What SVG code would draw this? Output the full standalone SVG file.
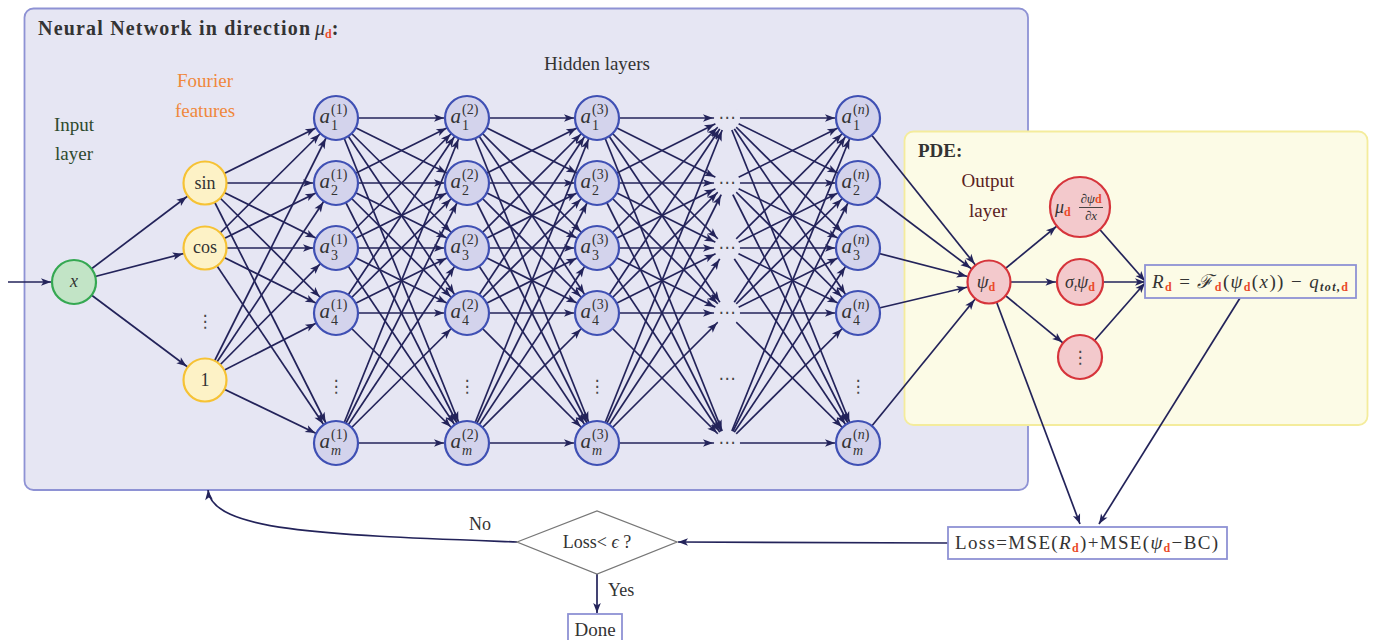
<svg xmlns="http://www.w3.org/2000/svg" width="1374" height="640" viewBox="0 0 1374 640">
  <style>
    text { font-family: "Liberation Serif", "DejaVu Serif", serif; fill: #333; }
    .panel-nn { fill: #e6e6f3; stroke: #8e92d4; stroke-width: 1.8; }
    .panel-pde { fill: #fcfbe6; stroke: #f4ec9c; stroke-width: 1.8; }
    .cn line, .cn path { stroke: #23235a; stroke-width: 1.7; fill: none; }
    .toC line { marker-end: url(#ac); }
    .toD line { marker-end: url(#ad); }
    .toH { marker-end: url(#ah); }
    .inN { fill: #c2e4c6; stroke: #35a852; stroke-width: 2.2; }
    .fN { fill: #fdf2c6; stroke: #f6c234; stroke-width: 2.2; }
    .hN { fill: #d3d3ec; stroke: #3f50b4; stroke-width: 2.2; }
    .pN { fill: #f3c9cc; stroke: #d6343b; stroke-width: 2.2; }
    .bx { fill: #ffffff; stroke: #8e92d4; stroke-width: 1.8; }
    .dbg { fill: #e6e6f3; }
    .lbl { font-size: 19px; text-anchor: middle; }
    .nl { font-size: 18px; text-anchor: middle; }
    .v { font-size: 21px; font-style: italic; text-anchor: end; }
    .sx { font-size: 14px; }
    .it { font-style: italic; }
    .rd { fill: #ea4a2a; font-weight: bold; font-size: 12px; font-style: normal; }
    .dots { font-family: "DejaVu Sans", sans-serif; font-size: 17px; text-anchor: middle; fill: #444; }
  </style>
  <defs>
    <!-- arrowheads pulled back from the line end so the tip lands on the target's rim -->
    <marker id="ah" markerUnits="userSpaceOnUse" orient="auto" overflow="visible" markerWidth="1" markerHeight="1">
      <path d="M0,0 L-10,-3.8 L-7.5,0 L-10,3.8 Z" fill="#23235a"/>
    </marker>
    <marker id="ac" markerUnits="userSpaceOnUse" orient="auto" overflow="visible" markerWidth="1" markerHeight="1">
      <path d="M-23,0 L-33,-3.8 L-30.5,0 L-33,3.8 Z" fill="#23235a"/>
    </marker>
    <marker id="ad" markerUnits="userSpaceOnUse" orient="auto" overflow="visible" markerWidth="1" markerHeight="1">
      <path d="M-14,0 L-24,-3.8 L-21.5,0 L-24,3.8 Z" fill="#23235a"/>
    </marker>
    <marker id="am" markerUnits="userSpaceOnUse" orient="auto" overflow="visible" markerWidth="1" markerHeight="1">
      <path d="M-31,0 L-41,-3.8 L-38.5,0 L-41,3.8 Z" fill="#23235a"/>
    </marker>
    <marker id="as" markerUnits="userSpaceOnUse" orient="auto" overflow="visible" markerWidth="1" markerHeight="1">
      <path d="M-24.5,0 L-34.5,-3.8 L-32,0 L-34.5,3.8 Z" fill="#23235a"/>
    </marker>
  </defs>

  <!-- panels -->
  <g id="panel-network">
    <rect class="panel-nn" x="24.5" y="8.5" width="1003.5" height="481.5" rx="9"/>
    <text x="38" y="35" font-size="20" font-weight="bold" textLength="272" lengthAdjust="spacing">Neural Network in direction</text>
    <text x="315" y="35" font-size="20"><tspan class="it">μ</tspan><tspan class="rd" dy="3">d</tspan><tspan dy="-3" font-weight="bold">:</tspan></text>
    <text class="lbl" x="205" y="87" style="fill:#f0883c">Fourier</text>
    <text class="lbl" x="205" y="117" style="fill:#f0883c">features</text>
    <text class="lbl" x="74" y="131" style="fill:#2e4a2e">Input</text>
    <text class="lbl" x="74" y="160" style="fill:#2e4a2e">layer</text>
    <text class="lbl" x="597" y="70">Hidden layers</text>
  </g>
  <g id="panel-pde">
    <rect class="panel-pde" x="904.5" y="131.5" width="463" height="293.5" rx="9"/>
    <text x="918" y="157" font-size="19" font-weight="bold">PDE:</text>
    <text class="lbl" x="988" y="187" style="fill:#5a2222">Output</text>
    <text class="lbl" x="988" y="217" style="fill:#5a2222">layer</text>
  </g>

  <!-- connectors -->
  <g id="connectors" class="cn">
    <g class="toC">
      <!-- input -->
      <line x1="8" y1="282" x2="74" y2="282"/>
      <line x1="74" y1="282" x2="205" y2="183"/>
      <line x1="74" y1="282" x2="205" y2="248"/>
      <line x1="74" y1="282" x2="205" y2="380"/>
      <!-- Fourier features to layer 1 -->
      <line x1="205" y1="183" x2="336" y2="118"/><line x1="205" y1="183" x2="336" y2="183"/><line x1="205" y1="183" x2="336" y2="248"/><line x1="205" y1="183" x2="336" y2="313"/><line x1="205" y1="183" x2="336" y2="443"/>
      <line x1="205" y1="248" x2="336" y2="118"/><line x1="205" y1="248" x2="336" y2="183"/><line x1="205" y1="248" x2="336" y2="248"/><line x1="205" y1="248" x2="336" y2="313"/><line x1="205" y1="248" x2="336" y2="443"/>
      <line x1="205" y1="380" x2="336" y2="118"/><line x1="205" y1="380" x2="336" y2="183"/><line x1="205" y1="380" x2="336" y2="248"/><line x1="205" y1="380" x2="336" y2="313"/><line x1="205" y1="380" x2="336" y2="443"/>
      <!-- layer 1 to layer 2 -->
      <line x1="336" y1="118" x2="467" y2="118"/><line x1="336" y1="118" x2="467" y2="183"/><line x1="336" y1="118" x2="467" y2="248"/><line x1="336" y1="118" x2="467" y2="313"/><line x1="336" y1="118" x2="467" y2="443"/>
      <line x1="336" y1="183" x2="467" y2="118"/><line x1="336" y1="183" x2="467" y2="183"/><line x1="336" y1="183" x2="467" y2="248"/><line x1="336" y1="183" x2="467" y2="313"/><line x1="336" y1="183" x2="467" y2="443"/>
      <line x1="336" y1="248" x2="467" y2="118"/><line x1="336" y1="248" x2="467" y2="183"/><line x1="336" y1="248" x2="467" y2="248"/><line x1="336" y1="248" x2="467" y2="313"/><line x1="336" y1="248" x2="467" y2="443"/>
      <line x1="336" y1="313" x2="467" y2="118"/><line x1="336" y1="313" x2="467" y2="183"/><line x1="336" y1="313" x2="467" y2="248"/><line x1="336" y1="313" x2="467" y2="313"/><line x1="336" y1="313" x2="467" y2="443"/>
      <line x1="336" y1="443" x2="467" y2="118"/><line x1="336" y1="443" x2="467" y2="183"/><line x1="336" y1="443" x2="467" y2="248"/><line x1="336" y1="443" x2="467" y2="313"/><line x1="336" y1="443" x2="467" y2="443"/>
      <!-- layer 2 to layer 3 -->
      <line x1="467" y1="118" x2="597" y2="118"/><line x1="467" y1="118" x2="597" y2="183"/><line x1="467" y1="118" x2="597" y2="248"/><line x1="467" y1="118" x2="597" y2="313"/><line x1="467" y1="118" x2="597" y2="443"/>
      <line x1="467" y1="183" x2="597" y2="118"/><line x1="467" y1="183" x2="597" y2="183"/><line x1="467" y1="183" x2="597" y2="248"/><line x1="467" y1="183" x2="597" y2="313"/><line x1="467" y1="183" x2="597" y2="443"/>
      <line x1="467" y1="248" x2="597" y2="118"/><line x1="467" y1="248" x2="597" y2="183"/><line x1="467" y1="248" x2="597" y2="248"/><line x1="467" y1="248" x2="597" y2="313"/><line x1="467" y1="248" x2="597" y2="443"/>
      <line x1="467" y1="313" x2="597" y2="118"/><line x1="467" y1="313" x2="597" y2="183"/><line x1="467" y1="313" x2="597" y2="248"/><line x1="467" y1="313" x2="597" y2="313"/><line x1="467" y1="313" x2="597" y2="443"/>
      <line x1="467" y1="443" x2="597" y2="118"/><line x1="467" y1="443" x2="597" y2="183"/><line x1="467" y1="443" x2="597" y2="248"/><line x1="467" y1="443" x2="597" y2="313"/><line x1="467" y1="443" x2="597" y2="443"/>
      <!-- elided layers to layer n -->
      <line x1="727" y1="118" x2="858" y2="118"/><line x1="727" y1="118" x2="858" y2="183"/><line x1="727" y1="118" x2="858" y2="248"/><line x1="727" y1="118" x2="858" y2="313"/><line x1="727" y1="118" x2="858" y2="443"/>
      <line x1="727" y1="183" x2="858" y2="118"/><line x1="727" y1="183" x2="858" y2="183"/><line x1="727" y1="183" x2="858" y2="248"/><line x1="727" y1="183" x2="858" y2="313"/><line x1="727" y1="183" x2="858" y2="443"/>
      <line x1="727" y1="248" x2="858" y2="118"/><line x1="727" y1="248" x2="858" y2="183"/><line x1="727" y1="248" x2="858" y2="248"/><line x1="727" y1="248" x2="858" y2="313"/><line x1="727" y1="248" x2="858" y2="443"/>
      <line x1="727" y1="313" x2="858" y2="118"/><line x1="727" y1="313" x2="858" y2="183"/><line x1="727" y1="313" x2="858" y2="248"/><line x1="727" y1="313" x2="858" y2="313"/><line x1="727" y1="313" x2="858" y2="443"/>
      <line x1="727" y1="443" x2="858" y2="118"/><line x1="727" y1="443" x2="858" y2="183"/><line x1="727" y1="443" x2="858" y2="248"/><line x1="727" y1="443" x2="858" y2="313"/><line x1="727" y1="443" x2="858" y2="443"/>
      <!-- layer n to output -->
      <line x1="858" y1="118" x2="989" y2="282"/><line x1="858" y1="183" x2="989" y2="282"/><line x1="858" y1="248" x2="989" y2="282"/><line x1="858" y1="313" x2="989" y2="282"/><line x1="858" y1="443" x2="989" y2="282"/>
      <line x1="989" y1="282" x2="1080" y2="357"/>
    </g>
    <g class="toD">
      <!-- layer 3 into the elided layers -->
      <line x1="597" y1="118" x2="727" y2="118"/><line x1="597" y1="118" x2="727" y2="183"/><line x1="597" y1="118" x2="727" y2="248"/><line x1="597" y1="118" x2="727" y2="313"/><line x1="597" y1="118" x2="727" y2="443"/>
      <line x1="597" y1="183" x2="727" y2="118"/><line x1="597" y1="183" x2="727" y2="183"/><line x1="597" y1="183" x2="727" y2="248"/><line x1="597" y1="183" x2="727" y2="313"/><line x1="597" y1="183" x2="727" y2="443"/>
      <line x1="597" y1="248" x2="727" y2="118"/><line x1="597" y1="248" x2="727" y2="183"/><line x1="597" y1="248" x2="727" y2="248"/><line x1="597" y1="248" x2="727" y2="313"/><line x1="597" y1="248" x2="727" y2="443"/>
      <line x1="597" y1="313" x2="727" y2="118"/><line x1="597" y1="313" x2="727" y2="183"/><line x1="597" y1="313" x2="727" y2="248"/><line x1="597" y1="313" x2="727" y2="313"/><line x1="597" y1="313" x2="727" y2="443"/>
      <line x1="597" y1="443" x2="727" y2="118"/><line x1="597" y1="443" x2="727" y2="183"/><line x1="597" y1="443" x2="727" y2="248"/><line x1="597" y1="443" x2="727" y2="313"/><line x1="597" y1="443" x2="727" y2="443"/>
    </g>
    <!-- PDE terms -->
    <line x1="989" y1="282" x2="1080" y2="207" marker-end="url(#am)"/>
    <line x1="989" y1="282" x2="1080" y2="282" marker-end="url(#as)"/>
    <line class="toH" x1="1080" y1="207" x2="1145" y2="281"/>
    <line class="toH" x1="1080" y1="282" x2="1145" y2="282"/>
    <line class="toH" x1="1080" y1="357" x2="1145" y2="283"/>
    <!-- loss assembly and training loop -->
    <line class="toH" x1="989" y1="282" x2="1080" y2="524"/>
    <line class="toH" x1="1240" y1="298" x2="1099" y2="524"/>
    <line class="toH" x1="948" y1="543" x2="678" y2="542"/>
    <line class="toH" x1="597" y1="574" x2="597" y2="613"/>
    <path class="toH" d="M517,542 C330,535 212,532 208,490"/>
  </g>

  <!-- backdrops behind the elided-layer dots -->
  <g id="elided-layer">
    <circle class="dbg" cx="727" cy="118" r="13"/>
    <circle class="dbg" cx="727" cy="183" r="13"/>
    <circle class="dbg" cx="727" cy="248" r="13"/>
    <circle class="dbg" cx="727" cy="313" r="13"/>
    <circle class="dbg" cx="727" cy="443" r="13"/>
    <text class="dots" x="727" y="123">⋯</text>
    <text class="dots" x="727" y="188">⋯</text>
    <text class="dots" x="727" y="253">⋯</text>
    <text class="dots" x="727" y="318">⋯</text>
    <text class="dots" x="727" y="384">⋯</text>
    <text class="dots" x="727" y="448">⋯</text>
  </g>

  <!-- input node -->
  <g id="node-x"><circle class="inN" cx="74" cy="282" r="22"/><text class="nl it" x="74" y="287">x</text></g>

  <!-- Fourier feature nodes -->
  <g id="node-sin"><circle class="fN" cx="205" cy="183" r="21.5"/><text class="nl" x="205" y="189">sin</text></g>
  <g id="node-cos"><circle class="fN" cx="205" cy="248" r="21.5"/><text class="nl" x="205" y="253">cos</text></g>
  <g id="node-fdots"><text class="dots" x="205" y="327">⋮</text></g>
  <g id="node-one"><circle class="fN" cx="205" cy="380" r="21.5"/><text class="nl" x="205" y="386">1</text></g>

  <!-- hidden layer 1 -->
  <g id="a1-1"><circle class="hN" cx="336" cy="118" r="22"/><text class="v" x="330" y="123">a</text><text class="sx" x="331" y="114">(1)</text><text class="sx" x="331" y="130">1</text></g>
  <g id="a2-1"><circle class="hN" cx="336" cy="183" r="22"/><text class="v" x="330" y="188">a</text><text class="sx" x="331" y="179">(1)</text><text class="sx" x="331" y="195">2</text></g>
  <g id="a3-1"><circle class="hN" cx="336" cy="248" r="22"/><text class="v" x="330" y="253">a</text><text class="sx" x="331" y="244">(1)</text><text class="sx" x="331" y="260">3</text></g>
  <g id="a4-1"><circle class="hN" cx="336" cy="313" r="22"/><text class="v" x="330" y="318">a</text><text class="sx" x="331" y="309">(1)</text><text class="sx" x="331" y="325">4</text></g>
  <g id="dots-1"><text class="dots" x="336" y="392">⋮</text></g>
  <g id="am-1"><circle class="hN" cx="336" cy="443" r="22"/><text class="v" x="330" y="448">a</text><text class="sx" x="331" y="439">(1)</text><text class="sx it" x="331" y="455">m</text></g>

  <!-- hidden layer 2 -->
  <g id="a1-2"><circle class="hN" cx="467" cy="118" r="22"/><text class="v" x="461" y="123">a</text><text class="sx" x="462" y="114">(2)</text><text class="sx" x="462" y="130">1</text></g>
  <g id="a2-2"><circle class="hN" cx="467" cy="183" r="22"/><text class="v" x="461" y="188">a</text><text class="sx" x="462" y="179">(2)</text><text class="sx" x="462" y="195">2</text></g>
  <g id="a3-2"><circle class="hN" cx="467" cy="248" r="22"/><text class="v" x="461" y="253">a</text><text class="sx" x="462" y="244">(2)</text><text class="sx" x="462" y="260">3</text></g>
  <g id="a4-2"><circle class="hN" cx="467" cy="313" r="22"/><text class="v" x="461" y="318">a</text><text class="sx" x="462" y="309">(2)</text><text class="sx" x="462" y="325">4</text></g>
  <g id="dots-2"><text class="dots" x="467" y="392">⋮</text></g>
  <g id="am-2"><circle class="hN" cx="467" cy="443" r="22"/><text class="v" x="461" y="448">a</text><text class="sx" x="462" y="439">(2)</text><text class="sx it" x="462" y="455">m</text></g>

  <!-- hidden layer 3 -->
  <g id="a1-3"><circle class="hN" cx="597" cy="118" r="22"/><text class="v" x="591" y="123">a</text><text class="sx" x="592" y="114">(3)</text><text class="sx" x="592" y="130">1</text></g>
  <g id="a2-3"><circle class="hN" cx="597" cy="183" r="22"/><text class="v" x="591" y="188">a</text><text class="sx" x="592" y="179">(3)</text><text class="sx" x="592" y="195">2</text></g>
  <g id="a3-3"><circle class="hN" cx="597" cy="248" r="22"/><text class="v" x="591" y="253">a</text><text class="sx" x="592" y="244">(3)</text><text class="sx" x="592" y="260">3</text></g>
  <g id="a4-3"><circle class="hN" cx="597" cy="313" r="22"/><text class="v" x="591" y="318">a</text><text class="sx" x="592" y="309">(3)</text><text class="sx" x="592" y="325">4</text></g>
  <g id="dots-3"><text class="dots" x="597" y="392">⋮</text></g>
  <g id="am-3"><circle class="hN" cx="597" cy="443" r="22"/><text class="v" x="591" y="448">a</text><text class="sx" x="592" y="439">(3)</text><text class="sx it" x="592" y="455">m</text></g>

  <!-- hidden layer n -->
  <g id="a1-n"><circle class="hN" cx="858" cy="118" r="22"/><text class="v" x="852" y="123">a</text><text class="sx" x="853" y="114">(<tspan class="it">n</tspan>)</text><text class="sx" x="853" y="130">1</text></g>
  <g id="a2-n"><circle class="hN" cx="858" cy="183" r="22"/><text class="v" x="852" y="188">a</text><text class="sx" x="853" y="179">(<tspan class="it">n</tspan>)</text><text class="sx" x="853" y="195">2</text></g>
  <g id="a3-n"><circle class="hN" cx="858" cy="248" r="22"/><text class="v" x="852" y="253">a</text><text class="sx" x="853" y="244">(<tspan class="it">n</tspan>)</text><text class="sx" x="853" y="260">3</text></g>
  <g id="a4-n"><circle class="hN" cx="858" cy="313" r="22"/><text class="v" x="852" y="318">a</text><text class="sx" x="853" y="309">(<tspan class="it">n</tspan>)</text><text class="sx" x="853" y="325">4</text></g>
  <g id="dots-n"><text class="dots" x="858" y="392">⋮</text></g>
  <g id="am-n"><circle class="hN" cx="858" cy="443" r="22"/><text class="v" x="852" y="448">a</text><text class="sx" x="853" y="439">(<tspan class="it">n</tspan>)</text><text class="sx it" x="853" y="455">m</text></g>

  <!-- output and PDE terms -->
  <g id="node-psi"><circle class="pN" cx="989" cy="282" r="21.5"/><text x="986" y="288" font-size="19" text-anchor="middle"><tspan class="it">ψ</tspan><tspan class="rd" dy="3">d</tspan></text></g>
  <g id="node-advection">
    <circle class="pN" cx="1080" cy="207" r="30"/>
    <text x="1055" y="213" font-size="18"><tspan class="it">μ</tspan><tspan class="rd" dy="3">d</tspan></text>
    <text x="1091" y="203" font-size="13" text-anchor="middle">∂<tspan class="it">ψ</tspan><tspan class="rd" font-size="9">d</tspan></text>
    <line x1="1079" y1="207.5" x2="1103" y2="207.5" stroke="#333" stroke-width="0.9"/>
    <text x="1091" y="220" font-size="13" text-anchor="middle">∂<tspan class="it">x</tspan></text>
  </g>
  <g id="node-absorption"><circle class="pN" cx="1080" cy="282" r="23"/><text x="1080" y="288" font-size="18" text-anchor="middle"><tspan class="it">σ</tspan><tspan class="it" font-size="11" dy="3">t</tspan><tspan class="it" dy="-3">ψ</tspan><tspan class="rd" dy="3">d</tspan></text></g>
  <g id="node-pdots"><circle class="pN" cx="1080" cy="357" r="22"/><text class="dots" x="1080" y="363" font-size="14">⋮</text></g>

  <g id="residual">
    <rect class="bx" x="1145" y="265" width="211" height="33" style="fill:#fcfbe6"/>
    <text x="1152" y="288" font-size="19" textLength="196" lengthAdjust="spacing"><tspan class="it">R</tspan><tspan class="rd" dy="3">d</tspan><tspan dy="-3"> = </tspan><tspan class="it">ℱ</tspan><tspan class="rd" dy="3">d</tspan><tspan dy="-3">(</tspan><tspan class="it">ψ</tspan><tspan class="rd" dy="3">d</tspan><tspan dy="-3">(</tspan><tspan class="it">x</tspan><tspan>)) − </tspan><tspan class="it">q</tspan><tspan class="it" font-size="12" font-weight="bold" dy="3">tot,</tspan><tspan class="rd">d</tspan></text>
  </g>

  <g id="loss">
    <rect class="bx" x="948" y="527" width="279" height="32"/>
    <text x="955" y="549" font-size="19" textLength="263" lengthAdjust="spacing">Loss=MSE(<tspan class="it">R</tspan><tspan class="rd" dy="3">d</tspan><tspan dy="-3">)+MSE(</tspan><tspan class="it">ψ</tspan><tspan class="rd" dy="3">d</tspan><tspan dy="-3">−BC)</tspan></text>
  </g>

  <g id="check">
    <polygon points="517,542 597,511 677,542 597,574" fill="#ffffff" stroke="#777" stroke-width="1.3"/>
    <text x="597" y="548" font-size="18" text-anchor="middle">Loss&lt; <tspan class="it">ϵ</tspan> ?</text>
  </g>
  <text x="480" y="530" font-size="18" text-anchor="middle">No</text>
  <text x="608" y="596" font-size="18">Yes</text>

  <g id="done">
    <rect class="bx" x="568" y="614" width="54" height="30"/>
    <text x="595" y="636" font-size="19" text-anchor="middle">Done</text>
  </g>
</svg>
